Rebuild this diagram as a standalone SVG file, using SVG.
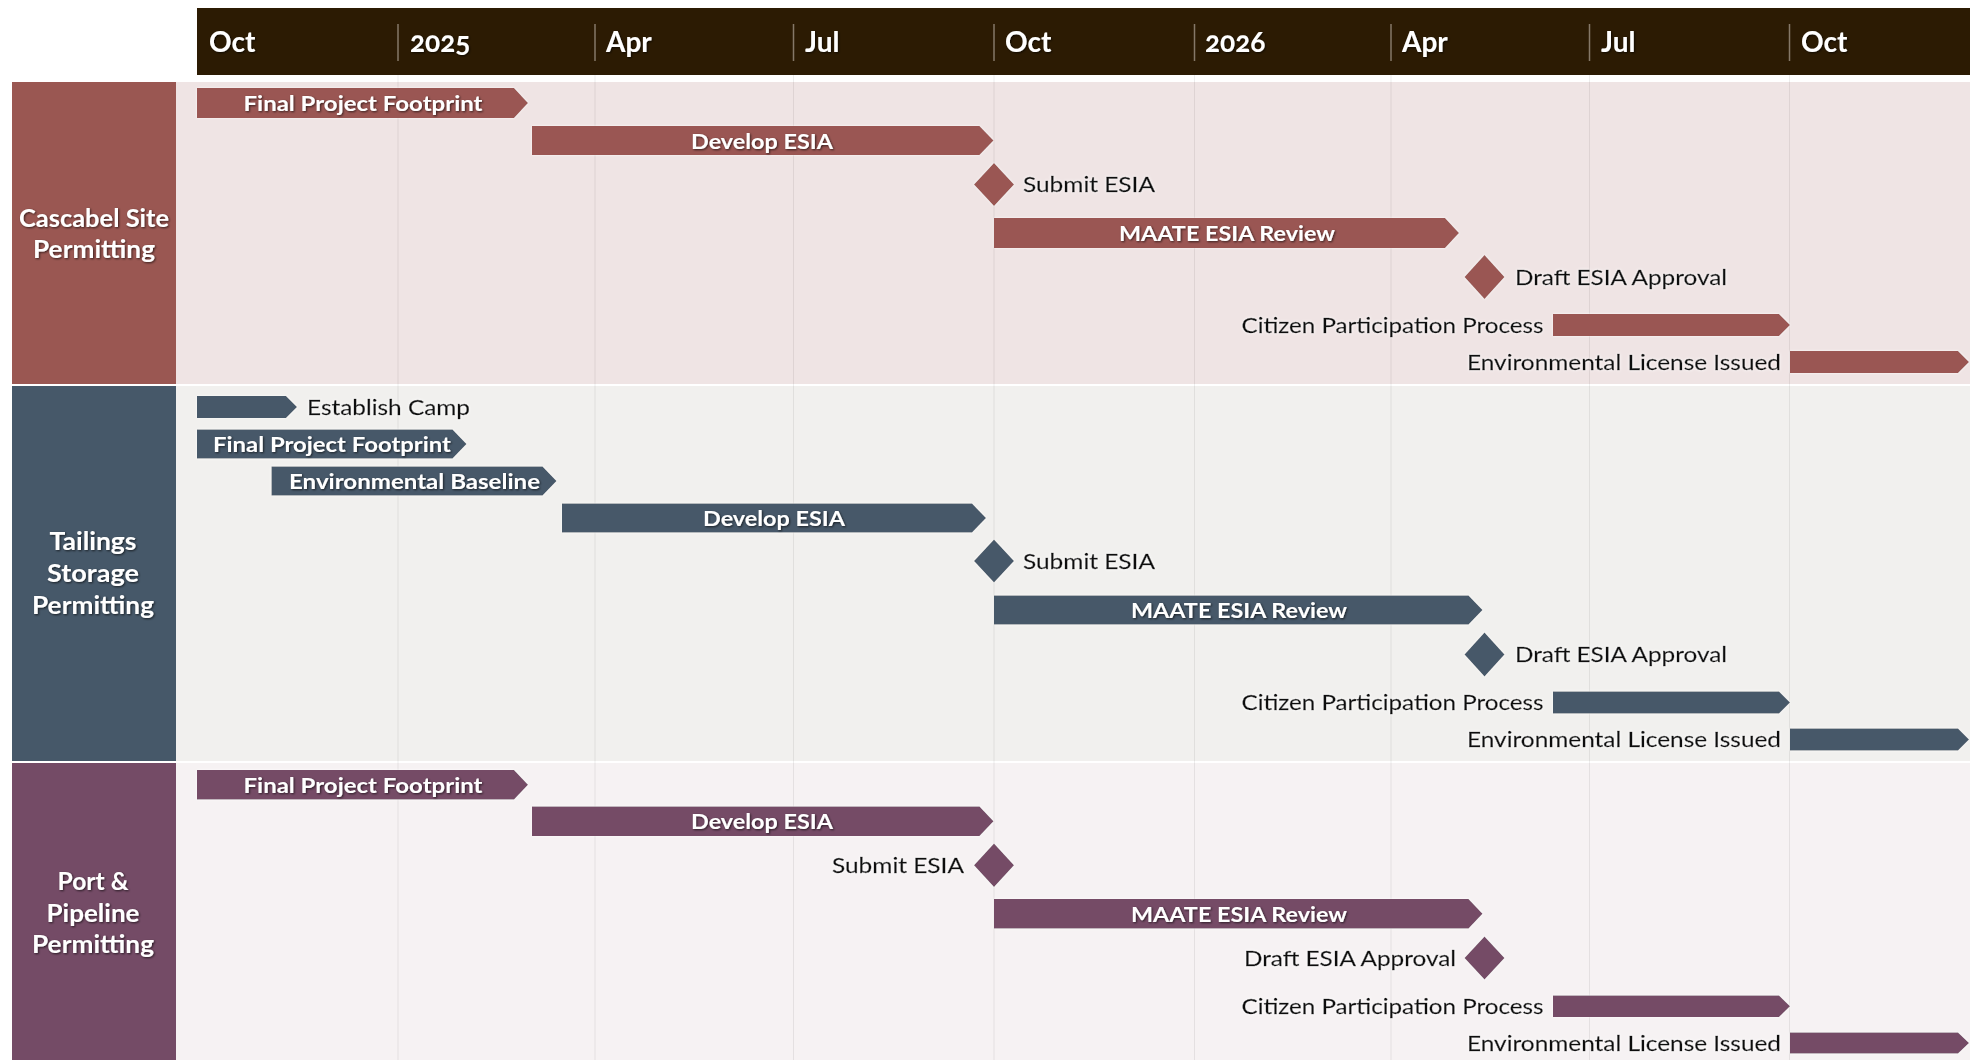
<svg xmlns="http://www.w3.org/2000/svg" width="1970" height="1060" viewBox="0 0 1970 1060">
<defs>
<filter id="sd" x="-10%" y="-40%" width="120%" height="180%"><feDropShadow dx="1" dy="1" stdDeviation="1" flood-color="#000" flood-opacity="0.65"/></filter>
<filter id="glow" x="-10%" y="-40%" width="120%" height="180%"><feDropShadow dx="0" dy="0" stdDeviation="1.5" flood-color="#fff" flood-opacity="1"/></filter>
<filter id="bs" x="-5%" y="-30%" width="110%" height="160%"><feDropShadow dx="0" dy="0" stdDeviation="1.2" flood-color="#fff" flood-opacity="0.9"/></filter>
</defs>
<style>
text{font-family:Lato,"Open Sans","Liberation Sans",sans-serif}
.hdr{fill:#fff;font-size:28px;font-weight:bold;filter:url(#sd);font-variant-numeric:oldstyle-nums}
.ln{fill:#fff;font-size:24px;font-weight:bold;text-anchor:middle;filter:url(#sd)}
.bt{fill:#fff;font-size:21px;font-weight:bold;text-anchor:middle;filter:url(#sd)}
.lb{fill:#0a0a0a;stroke:#0a0a0a;stroke-width:0.35;font-size:21px;filter:url(#glow)}
.e{text-anchor:end}
.c1{fill:#9A5752}
.c2{fill:#465869}
.c3{fill:#744B66}
.grid{stroke:#000;stroke-opacity:0.07;stroke-width:1}
.hdiv{stroke:#857868;stroke-width:1.5}
.bar{filter:url(#bs)}
</style>
<rect width="1970" height="1060" fill="#fff"/>
<g id="lane-backgrounds">
<rect x="176" y="82" width="1794" height="302" fill="#EFE4E4"/>
<rect x="176" y="386" width="1794" height="375" fill="#F1F0EE"/>
<rect x="176" y="763" width="1794" height="297" fill="#F6F2F3"/>
</g>
<g id="grid">
<line class="grid" x1="398" y1="75" x2="398" y2="1060"/>
<line class="grid" x1="595" y1="75" x2="595" y2="1060"/>
<line class="grid" x1="793.5" y1="75" x2="793.5" y2="1060"/>
<line class="grid" x1="994" y1="75" x2="994" y2="1060"/>
<line class="grid" x1="1194.5" y1="75" x2="1194.5" y2="1060"/>
<line class="grid" x1="1391" y1="75" x2="1391" y2="1060"/>
<line class="grid" x1="1589.5" y1="75" x2="1589.5" y2="1060"/>
<line class="grid" x1="1789.5" y1="75" x2="1789.5" y2="1060"/>
</g>
<g id="header">
<rect x="197" y="8" width="1773" height="67" fill="#2C1B03"/>
<line class="hdiv" x1="398" y1="24" x2="398" y2="61"/>
<line class="hdiv" x1="595" y1="24" x2="595" y2="61"/>
<line class="hdiv" x1="793.5" y1="24" x2="793.5" y2="61"/>
<line class="hdiv" x1="994" y1="24" x2="994" y2="61"/>
<line class="hdiv" x1="1194.5" y1="24" x2="1194.5" y2="61"/>
<line class="hdiv" x1="1391" y1="24" x2="1391" y2="61"/>
<line class="hdiv" x1="1589.5" y1="24" x2="1589.5" y2="61"/>
<line class="hdiv" x1="1789.5" y1="24" x2="1789.5" y2="61"/>
<text class="hdr" x="209" y="52">Oct</text>
<text class="hdr" x="410" y="52">2025</text>
<text class="hdr" x="606" y="52">Apr</text>
<text class="hdr" x="805" y="52">Jul</text>
<text class="hdr" x="1005" y="52">Oct</text>
<text class="hdr" x="1205" y="52">2026</text>
<text class="hdr" x="1402" y="52">Apr</text>
<text class="hdr" x="1601" y="52">Jul</text>
<text class="hdr" x="1801" y="52">Oct</text>
</g>
<g id="lane-cascabel">
<rect x="12" y="82" width="164" height="302" class="c1"/>
<text class="ln" x="94" y="227" textLength="150" lengthAdjust="spacingAndGlyphs">Cascabel Site</text>
<text class="ln" x="94" y="258" textLength="122" lengthAdjust="spacingAndGlyphs">Permitting</text>
</g>
<g id="lane-tailings">
<rect x="12" y="386" width="164" height="375" class="c2"/>
<text class="ln" x="93" y="550" textLength="87" lengthAdjust="spacingAndGlyphs">Tailings</text>
<text class="ln" x="93" y="582" textLength="92" lengthAdjust="spacingAndGlyphs">Storage</text>
<text class="ln" x="93" y="614" textLength="122" lengthAdjust="spacingAndGlyphs">Permitting</text>
</g>
<g id="lane-port">
<rect x="12" y="763" width="164" height="297" class="c3"/>
<text class="ln" x="93" y="890" textLength="71" lengthAdjust="spacingAndGlyphs">Port &amp;</text>
<text class="ln" x="93" y="922" textLength="93" lengthAdjust="spacingAndGlyphs">Pipeline</text>
<text class="ln" x="93" y="953" textLength="122" lengthAdjust="spacingAndGlyphs">Permitting</text>
</g>
<g id="connectors"/>
<g id="l1-final-footprint">
<polygon class="c1 bar" points="197,88 514,88 528,103 514,118 197,118"/>
<text class="bt" x="363" y="111" textLength="239" lengthAdjust="spacingAndGlyphs">Final Project Footprint</text>
</g>
<g id="l1-develop-esia">
<polygon class="c1 bar" points="532,126 979.5,126 993.5,140.5 979.5,155 532,155"/>
<text class="bt" x="762" y="148.5" textLength="142" lengthAdjust="spacingAndGlyphs">Develop ESIA</text>
</g>
<g id="l1-submit-esia">
<polygon class="c1 bar" points="994,163 1014,184.5 994,206 974,184.5"/>
<text class="lb" x="1023" y="192" textLength="132" lengthAdjust="spacingAndGlyphs">Submit ESIA</text>
</g>
<g id="l1-maate-review">
<polygon class="c1 bar" points="994,218 1445,218 1459,233 1445,248 994,248"/>
<text class="bt" x="1227" y="241" textLength="216" lengthAdjust="spacingAndGlyphs">MAATE ESIA Review</text>
</g>
<g id="l1-draft-approval">
<polygon class="c1 bar" points="1484.5,255 1504.5,277 1484.5,299 1464.5,277"/>
<text class="lb" x="1515" y="284.5" textLength="212" lengthAdjust="spacingAndGlyphs">Draft ESIA Approval</text>
</g>
<g id="l1-citizen">
<polygon class="c1 bar" points="1553,314 1779,314 1790,325 1779,336 1553,336"/>
<text class="lb e" x="1543.5" y="333" textLength="302" lengthAdjust="spacingAndGlyphs">Citizen Participation Process</text>
</g>
<g id="l1-license">
<polygon class="c1 bar" points="1790,351 1958,351 1969,362 1958,373 1790,373"/>
<text class="lb e" x="1781" y="369.5" textLength="314" lengthAdjust="spacingAndGlyphs">Environmental License Issued</text>
</g>
<g id="l2-establish-camp">
<polygon class="c2 bar" points="197,396 286,396 297,407 286,418 197,418"/>
<text class="lb" x="307" y="414.5" textLength="163" lengthAdjust="spacingAndGlyphs">Establish Camp</text>
</g>
<g id="l2-final-footprint">
<polygon class="c2 bar" points="197,429.5 452.5,429.5 466.5,444 452.5,458.5 197,458.5"/>
<text class="bt" x="332" y="452" textLength="238" lengthAdjust="spacingAndGlyphs">Final Project Footprint</text>
</g>
<g id="l2-env-baseline">
<polygon class="c2 bar" points="271.5,466.5 542.5,466.5 556.5,481 542.5,495.5 271.5,495.5"/>
<text class="bt" x="414.5" y="489" textLength="251" lengthAdjust="spacingAndGlyphs">Environmental Baseline</text>
</g>
<g id="l2-develop-esia">
<polygon class="c2 bar" points="562,503.5 972,503.5 986,518 972,532.5 562,532.5"/>
<text class="bt" x="774" y="526" textLength="142" lengthAdjust="spacingAndGlyphs">Develop ESIA</text>
</g>
<g id="l2-submit-esia">
<polygon class="c2 bar" points="994,539.5 1014,561 994,582.5 974,561"/>
<text class="lb" x="1023" y="569" textLength="132" lengthAdjust="spacingAndGlyphs">Submit ESIA</text>
</g>
<g id="l2-maate-review">
<polygon class="c2 bar" points="994,595.5 1468.5,595.5 1482.5,610 1468.5,624.5 994,624.5"/>
<text class="bt" x="1239" y="618" textLength="216" lengthAdjust="spacingAndGlyphs">MAATE ESIA Review</text>
</g>
<g id="l2-draft-approval">
<polygon class="c2 bar" points="1484.5,632.5 1504.5,654.5 1484.5,676.5 1464.5,654.5"/>
<text class="lb" x="1515" y="662" textLength="212" lengthAdjust="spacingAndGlyphs">Draft ESIA Approval</text>
</g>
<g id="l2-citizen">
<polygon class="c2 bar" points="1553,691.5 1779,691.5 1790,702.5 1779,713.5 1553,713.5"/>
<text class="lb e" x="1543.5" y="710" textLength="302" lengthAdjust="spacingAndGlyphs">Citizen Participation Process</text>
</g>
<g id="l2-license">
<polygon class="c2 bar" points="1790,728.5 1958,728.5 1969,739.5 1958,750.5 1790,750.5"/>
<text class="lb e" x="1781" y="746.5" textLength="314" lengthAdjust="spacingAndGlyphs">Environmental License Issued</text>
</g>
<g id="l3-final-footprint">
<polygon class="c3 bar" points="197,770 514,770 528,784.75 514,799.5 197,799.5"/>
<text class="bt" x="363" y="793" textLength="239" lengthAdjust="spacingAndGlyphs">Final Project Footprint</text>
</g>
<g id="l3-develop-esia">
<polygon class="c3 bar" points="532,806.5 979.5,806.5 993.5,821.25 979.5,836 532,836"/>
<text class="bt" x="762" y="829" textLength="142" lengthAdjust="spacingAndGlyphs">Develop ESIA</text>
</g>
<g id="l3-submit-esia">
<polygon class="c3 bar" points="994,843.5 1014,865.3 994,887 974,865.3"/>
<text class="lb e" x="964" y="873" textLength="132" lengthAdjust="spacingAndGlyphs">Submit ESIA</text>
</g>
<g id="l3-maate-review">
<polygon class="c3 bar" points="994,899 1468.5,899 1482.5,913.75 1468.5,928.5 994,928.5"/>
<text class="bt" x="1239" y="921.5" textLength="216" lengthAdjust="spacingAndGlyphs">MAATE ESIA Review</text>
</g>
<g id="l3-draft-approval">
<polygon class="c3 bar" points="1484.5,936.5 1504.5,958 1484.5,979.5 1464.5,958"/>
<text class="lb e" x="1456" y="966" textLength="212" lengthAdjust="spacingAndGlyphs">Draft ESIA Approval</text>
</g>
<g id="l3-citizen">
<polygon class="c3 bar" points="1553,995.5 1779,995.5 1790,1006.25 1779,1017 1553,1017"/>
<text class="lb e" x="1543.5" y="1013.5" textLength="302" lengthAdjust="spacingAndGlyphs">Citizen Participation Process</text>
</g>
<g id="l3-license">
<polygon class="c3 bar" points="1790,1032.5 1958,1032.5 1969,1043 1958,1053.5 1790,1053.5"/>
<text class="lb e" x="1781" y="1050.5" textLength="314" lengthAdjust="spacingAndGlyphs">Environmental License Issued</text>
</g>
</svg>
